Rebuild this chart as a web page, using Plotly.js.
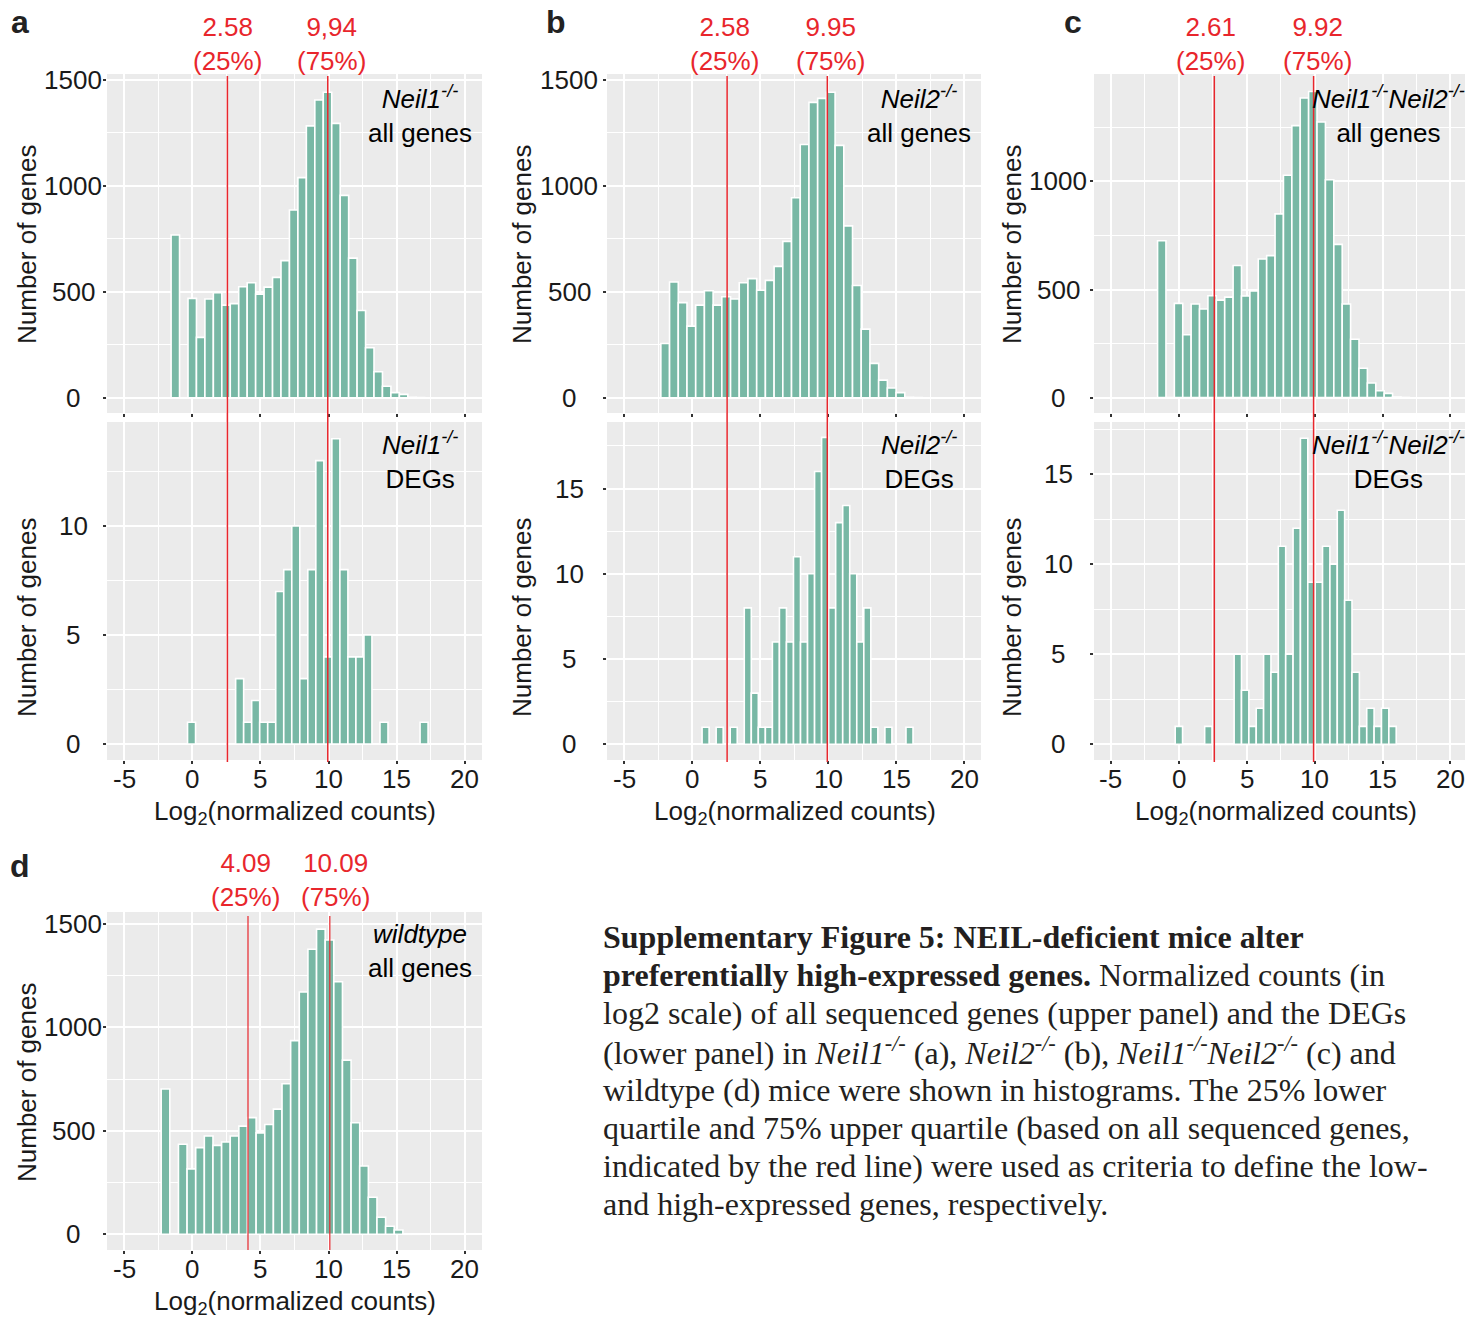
<!DOCTYPE html>
<html><head><meta charset="utf-8">
<script src="https://cdn.plot.ly/plotly-3.0.1.min.js"></script>
<style>html,body{margin:0;padding:0;background:#fff}#chart{width:1465px;height:1318px}</style>
</head><body><div id="chart"></div>
<script>
// ---------------- data ----------------
const xTickVals = [-5, 0, 5, 10, 15, 20];

const neil1AllCounts = [768,0,469,285,466,496,437,444,524,543,489,522,568,647,886,1039,1283,1405,1442,1295,955,659,412,236,123,54,24,16,2,1];
const neil1AllBins = {first: -1.24, width: 0.62};
const neil1DegCounts = [1,0,0,0,0,0,3,1,2,1,1,7,8,10,3,8,13,4,14,8,4,4,5,0,1,0,0,0,0,1];
const neil1DegBins = {first: -0.05, width: 0.588};

const neil2AllCounts = [256,546,449,338,437,505,437,477,466,543,562,507,554,620,738,944,1195,1394,1413,1442,1191,811,530,324,162,83,46,24,2,1];
const neil2AllBins = {first: -1.97, width: 0.6406};
const neil2DegCounts = [1,0,1,0,1,0,8,3,1,1,6,8,6,11,6,10,16,18,8,13,14,10,6,8,1,0,1,0,0,1];
const neil2DegBins = {first: 1.0, width: 0.517};

const dkoAllCounts = [726,0,436,291,433,410,471,451,465,611,470,493,641,657,850,1029,1258,1386,1416,1275,1008,709,433,270,136,68,32,20,3,1];
const dkoAllBins = {first: -1.26, width: 0.618};
const dkoDegCounts = [1,0,0,0,1,0,0,0,5,3,1,2,5,4,11,5,12,17,9,9,11,10,13,8,4,1,2,1,2,1];
const dkoDegBins = {first: 0.0, width: 0.5425};

const wtAllCounts = [702,0,435,316,419,475,430,446,475,523,564,490,531,605,728,936,1171,1378,1475,1423,1221,842,539,330,179,82,39,21,2,1];
const wtAllBins = {first: -1.96, width: 0.633};

const quartileA = [2.58, 9.94], quartileLabelsA = ['2.58', '9,94'];
const quartileB = [2.58, 9.95], quartileLabelsB = ['2.58', '9.95'];
const quartileC = [2.61, 9.92], quartileLabelsC = ['2.61', '9.92'];
const quartileD = [4.09, 10.09], quartileLabelsD = ['4.09', '10.09'];

const topTicks = [0, 500, 1000, 1500];
const topTicksC = [0, 500, 1000];
const degTicksA = [0, 5, 10];
const degTicksBC = [0, 5, 10, 15];

const captionLines = [
  '<b>Supplementary Figure 5: NEIL-deficient mice alter</b>',
  '<b>preferentially high-expressed genes.</b> Normalized counts (in',
  'log2 scale) of all sequenced genes (upper panel) and the DEGs',
  '(lower panel) in <i>Neil1<sup>-/-</sup></i> (a), <i>Neil2<sup>-/-</sup></i> (b), <i>Neil1<sup>-/-</sup>Neil2<sup>-/-</sup></i> (c) and',
  'wildtype (d) mice were shown in histograms. The 25% lower',
  'quartile and 75% upper quartile (based on all sequenced genes,',
  'indicated by the red line) were used as criteria to define the low-',
  'and high-expressed genes, respectively.'
];

// ---------------- layout helpers ----------------
const W = 1465, H = 1318;
const fx = v => v / W, fy = v => 1 - v / H;
const FONT = '"Liberation Sans", Arial, Helvetica, sans-serif';
const SERIF = '"Liberation Serif", "Times New Roman", serif';
const BAR = '#78b8a5', RED = '#e8262c', TXT = '#1a1a1a';

const panels = [
  {counts: neil1AllCounts, bins: neil1AllBins, box: [107, 74, 482, 413], yr: [-72, 1528], yt: topTicks, ym0: 250, ymd: 500, ylabX: 73,
   label: '<i>Neil1<sup>-/-</sup></i><br>all genes', labXY: [420, 114], ytitle: [27, 245]},
  {counts: neil1DegCounts, bins: neil1DegBins, box: [107, 422, 482, 760], yr: [-0.73, 14.77], yt: degTicksA, ym0: 2.5, ymd: 5, ylabX: 73,
   label: '<i>Neil1<sup>-/-</sup></i><br>DEGs', labXY: [420, 461], ytitle: [27, 618], xtitle: [295, 812], xlabY: 779},
  {counts: neil2AllCounts, bins: neil2AllBins, box: [607, 74, 981, 413], yr: [-72, 1528], yt: topTicks, ym0: 250, ymd: 500, ylabX: 569,
   label: '<i>Neil2<sup>-/-</sup></i><br>all genes', labXY: [919, 114], ytitle: [522, 245]},
  {counts: neil2DegCounts, bins: neil2DegBins, box: [607, 422, 981, 760], yr: [-0.92, 18.9], yt: degTicksBC, ym0: 2.5, ymd: 5, ylabX: 569,
   label: '<i>Neil2<sup>-/-</sup></i><br>DEGs', labXY: [919, 461], ytitle: [522, 618], xtitle: [795, 812], xlabY: 779},
  {counts: dkoAllCounts, bins: dkoAllBins, box: [1094, 74, 1465, 413], yr: [-71, 1497], yt: topTicksC, ym0: 250, ymd: 500, ylabX: 1058,
   label: '<i>Neil1<sup>-/-</sup>Neil2<sup>-/-</sup></i><br>all genes', labXY: [1388, 114], ytitle: [1012, 245]},
  {counts: dkoDegCounts, bins: dkoDegBins, box: [1094, 422, 1465, 760], yr: [-0.87, 17.9], yt: degTicksBC, ym0: 2.5, ymd: 5, ylabX: 1058,
   label: '<i>Neil1<sup>-/-</sup>Neil2<sup>-/-</sup></i><br>DEGs', labXY: [1388, 461], ytitle: [1012, 618], xtitle: [1276, 812], xlabY: 779},
  {counts: wtAllCounts, bins: wtAllBins, box: [107, 912, 482, 1250], yr: [-76, 1558], yt: topTicks, ym0: 250, ymd: 500, ylabX: 73,
   label: '<i>wildtype</i><br>all genes', labXY: [420, 951], ytitle: [27, 1083], xtitle: [295, 1302], xlabY: 1269}
];

const data = [];
const layout = {
  width: W, height: H, margin: {l: 0, r: 0, t: 0, b: 0},
  paper_bgcolor: '#fff', plot_bgcolor: '#ebebeb',
  showlegend: false, bargap: 0,
  font: {family: FONT, size: 26, color: TXT},
  annotations: [], shapes: []
};

panels.forEach((p, i) => {
  const n = i === 0 ? '' : String(i + 1);
  const xs = p.counts.map((_, k) => p.bins.first + k * p.bins.width);
  data.push({
    type: 'bar', x: xs, y: p.counts, width: p.bins.width,
    xaxis: 'x' + n, yaxis: 'y' + n,
    marker: {color: BAR, line: {color: '#ffffff', width: 1.6}},
    hoverinfo: 'x+y'
  });
  const [l, t, r, b] = p.box;
  const xRight = r >= W ? -6.25 + (r - l) / 13.58 : 21.25;
  layout['xaxis' + n] = {
    domain: [fx(l), fx(r)], anchor: 'y' + n, range: [-6.25, xRight],
    tickmode: 'array', tickvals: xTickVals, showticklabels: false,
    ticks: 'outside', ticklen: 3, tickwidth: 2, tickcolor: '#333',
    showgrid: true, gridcolor: '#ffffff', gridwidth: 2,
    minor: {tickmode: 'linear', tick0: -2.5, dtick: 5, showgrid: true, gridcolor: '#ffffff', gridwidth: 1, ticks: ''},
    zeroline: false, showline: false, fixedrange: true
  };
  layout['yaxis' + n] = {
    domain: [fy(b), fy(t)], anchor: 'x' + n, range: p.yr,
    tickmode: 'array', tickvals: p.yt, showticklabels: false,
    ticks: 'outside', ticklen: 3, tickwidth: 2, tickcolor: '#333',
    showgrid: true, gridcolor: '#ffffff', gridwidth: 2,
    minor: {tickmode: 'linear', tick0: p.ym0, dtick: p.ymd, showgrid: true, gridcolor: '#ffffff', gridwidth: 1, ticks: ''},
    zeroline: false, showline: false, fixedrange: true
  };
  // centred y tick labels (ggplot style)
  p.yt.forEach(v => layout.annotations.push({
    xref: 'paper', yref: 'y' + n, x: fx(p.ylabX), y: v, xanchor: 'center', yanchor: 'middle',
    text: String(v), showarrow: false, font: {size: 26, color: TXT, family: FONT}
  }));
  // x tick labels on bottom panels
  if (p.xlabY) xTickVals.forEach(v => layout.annotations.push({
    xref: 'x' + n, yref: 'paper', x: v, y: fy(p.xlabY), xanchor: 'center', yanchor: 'middle',
    text: String(v), showarrow: false, font: {size: 26, color: TXT, family: FONT}
  }));
  // in-panel label
  layout.annotations.push({
    xref: 'paper', yref: 'paper', x: fx(p.labXY[0]), y: fy(p.labXY[1]), xanchor: 'center', yanchor: 'middle',
    text: p.label, showarrow: false, align: 'center', font: {size: 26, color: '#000', family: FONT}
  });
  // y title
  layout.annotations.push({
    xref: 'paper', yref: 'paper', x: fx(p.ytitle[0]), y: fy(p.ytitle[1]), xanchor: 'center', yanchor: 'middle',
    text: 'Number of genes', textangle: -90, showarrow: false, font: {size: 26, color: TXT, family: FONT}
  });
  if (p.xtitle) layout.annotations.push({
    xref: 'paper', yref: 'paper', x: fx(p.xtitle[0]), y: fy(p.xtitle[1]), xanchor: 'center', yanchor: 'middle',
    text: 'Log<sub>2</sub>(normalized counts)', showarrow: false, font: {size: 26, color: TXT, family: FONT}
  });
});

// quartile lines and labels
const groups = [
  {q: quartileA, lab: quartileLabelsA, xa: 'x', y0: 762, y1: 76, labY: 44, shifts: [0, 4], w: 1.5},
  {q: quartileB, lab: quartileLabelsB, xa: 'x3', y0: 762, y1: 76, labY: 44, shifts: [-3, 3], w: 1.5},
  {q: quartileC, lab: quartileLabelsC, xa: 'x5', y0: 762, y1: 76, labY: 44, shifts: [-4, 4], w: 1.5},
  {q: quartileD, lab: quartileLabelsD, xa: 'x7', y0: 1250, y1: 916, labY: 880, shifts: [-3, 6], w: 1.2}
];
const pct = ['(25%)', '(75%)'];
groups.forEach(g => {
  g.q.forEach((v, j) => {
    layout.shapes.push({type: 'line', xref: g.xa, yref: 'paper', x0: v, x1: v, y0: fy(g.y0), y1: fy(g.y1),
      line: {color: RED, width: g.w}, layer: 'above'});
    layout.annotations.push({xref: g.xa, yref: 'paper', x: v, xshift: g.shifts[j], y: fy(g.labY),
      xanchor: 'center', yanchor: 'middle', text: g.lab[j] + '<br>' + pct[j], showarrow: false,
      align: 'center', font: {size: 26, color: RED, family: FONT}});
  });
});

// panel letters
[['a', 20, 22], ['b', 556, 22], ['c', 1073, 22], ['d', 20, 866]].forEach(([t, x, y]) => {
  layout.annotations.push({xref: 'paper', yref: 'paper', x: fx(x), y: fy(y), xanchor: 'center', yanchor: 'middle',
    text: '<b>' + t + '</b>', showarrow: false, font: {size: 32, color: '#222', family: '"Liberation Sans Narrow", ' + FONT}});
});

// caption
const capY = [937, 975, 1013, 1051, 1090, 1128, 1166, 1204];
captionLines.forEach((s, i) => {
  layout.annotations.push({xref: 'paper', yref: 'paper', x: fx(601), y: fy(capY[i]), xanchor: 'left', yanchor: 'middle',
    text: s, showarrow: false, align: 'left', font: {size: 32, color: '#231f20', family: SERIF}});
});

Plotly.newPlot('chart', data, layout, {displayModeBar: false, staticPlot: true});
</script>
</body></html>
